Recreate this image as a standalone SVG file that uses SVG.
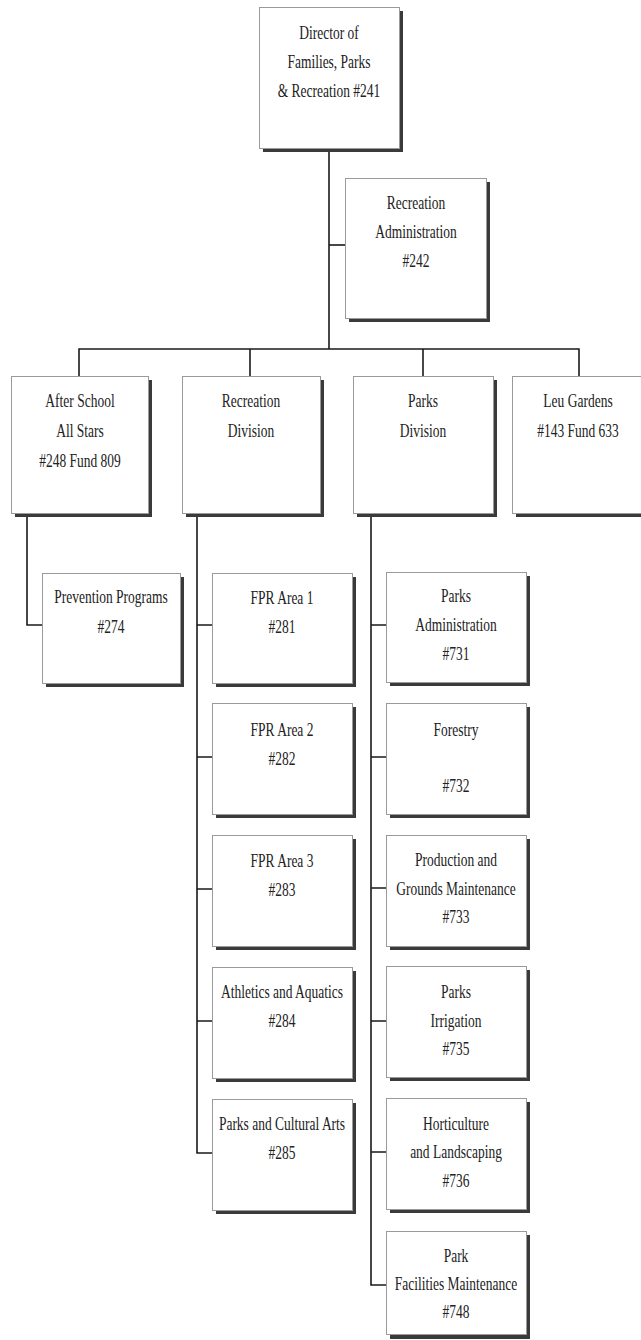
<svg xmlns="http://www.w3.org/2000/svg" width="641" height="1340" viewBox="0 0 641 1340">
  <style>
    .shadow { fill: #3a3a3a; }
    .box { fill: #ffffff; stroke: #9a9a9a; stroke-width: 1; }
    .lbl { font-family: "Liberation Serif", "Times New Roman", serif; font-size: 19px; fill: #222; text-anchor: middle; }
    .wire { fill: none; stroke: #1a1a1a; stroke-width: 1.6; }
  </style>
  <rect width="641" height="1340" fill="#ffffff"/>

  <!-- connectors -->
  <g id="connectors" class="wire">
    <path d="M329 150 V349"/>
    <path d="M329 245 H345"/>
    <path d="M79 376 V349 H579 V376"/>
    <path d="M250 349 V376"/>
    <path d="M423 349 V376"/>
    <path d="M27 517 V625 H42"/>
    <path d="M197 517 V1153 H212"/>
    <path d="M197 625 H212 M197 757 H212 M197 889 H212 M197 1021 H212"/>
    <path d="M371 517 V1285 H386"/>
    <path d="M371 625 H386 M371 757 H386 M371 888 H386 M371 1021 H386 M371 1152 H386"/>
  </g>

  <!-- director -->
  <g id="director">
    <rect class="shadow" x="263" y="11" width="140" height="141"/>
    <rect class="box" x="259.5" y="7.5" width="140" height="141"/>
    <g transform="translate(329 0) scale(0.71 1)">
      <text class="lbl" x="0" y="39">Director of</text>
      <text class="lbl" x="0" y="68">Families, Parks</text>
      <text class="lbl" x="0" y="97">&amp; Recreation #241</text>
    </g>
  </g>

  <g id="rec-admin">
    <rect class="shadow" x="349" y="182" width="141" height="140"/>
    <rect class="box" x="345.5" y="178.5" width="141" height="140"/>
    <g transform="translate(416 0) scale(0.71 1)">
      <text class="lbl" x="0" y="209">Recreation</text>
      <text class="lbl" x="0" y="238">Administration</text>
      <text class="lbl" x="0" y="267">#242</text>
    </g>
  </g>

  <g id="after-school">
    <rect class="shadow" x="15" y="380" width="137" height="137"/>
    <rect class="box" x="11.5" y="376.5" width="137" height="137"/>
    <g transform="translate(80 0) scale(0.71 1)">
      <text class="lbl" x="0" y="407">After School</text>
      <text class="lbl" x="0" y="437">All Stars</text>
      <text class="lbl" x="0" y="467">#248 Fund 809</text>
    </g>
  </g>

  <g id="rec-division">
    <rect class="shadow" x="186" y="380" width="138" height="137"/>
    <rect class="box" x="182.5" y="376.5" width="138" height="137"/>
    <g transform="translate(251 0) scale(0.71 1)">
      <text class="lbl" x="0" y="407">Recreation</text>
      <text class="lbl" x="0" y="437">Division</text>
    </g>
  </g>

  <g id="parks-division">
    <rect class="shadow" x="357" y="380" width="140" height="137"/>
    <rect class="box" x="353.5" y="376.5" width="140" height="137"/>
    <g transform="translate(423 0) scale(0.71 1)">
      <text class="lbl" x="0" y="407">Parks</text>
      <text class="lbl" x="0" y="437">Division</text>
    </g>
  </g>

  <g id="leu-gardens">
    <rect class="shadow" x="516" y="380" width="140" height="137"/>
    <rect class="box" x="512.5" y="376.5" width="140" height="137"/>
    <g transform="translate(578 0) scale(0.71 1)">
      <text class="lbl" x="0" y="407">Leu Gardens</text>
      <text class="lbl" x="0" y="437">#143 Fund 633</text>
    </g>
  </g>

  <g id="prevention">
    <rect class="shadow" x="46" y="577" width="138" height="110"/>
    <rect class="box" x="42.5" y="573.5" width="138" height="110"/>
    <g transform="translate(111 0) scale(0.71 1)">
      <text class="lbl" x="0" y="603">Prevention Programs</text>
      <text class="lbl" x="0" y="633">#274</text>
    </g>
  </g>

  <!-- recreation division units -->
  <g id="fpr-281">
    <rect class="shadow" x="216" y="577" width="140" height="110"/>
    <rect class="box" x="212.5" y="573.5" width="140" height="110"/>
    <g transform="translate(282 0) scale(0.71 1)">
      <text class="lbl" x="0" y="604">FPR Area 1</text>
      <text class="lbl" x="0" y="633">#281</text>
    </g>
  </g>

  <g id="fpr-282">
    <rect class="shadow" x="216" y="707" width="140" height="111"/>
    <rect class="box" x="212.5" y="703.5" width="140" height="111"/>
    <g transform="translate(282 0) scale(0.71 1)">
      <text class="lbl" x="0" y="736">FPR Area 2</text>
      <text class="lbl" x="0" y="765">#282</text>
    </g>
  </g>

  <g id="fpr-283">
    <rect class="shadow" x="216" y="839" width="140" height="111"/>
    <rect class="box" x="212.5" y="835.5" width="140" height="111"/>
    <g transform="translate(282 0) scale(0.71 1)">
      <text class="lbl" x="0" y="867">FPR Area 3</text>
      <text class="lbl" x="0" y="896">#283</text>
    </g>
  </g>

  <g id="athletics-284">
    <rect class="shadow" x="216" y="971" width="140" height="111"/>
    <rect class="box" x="212.5" y="967.5" width="140" height="111"/>
    <g transform="translate(282 0) scale(0.71 1)">
      <text class="lbl" x="0" y="998">Athletics and Aquatics</text>
      <text class="lbl" x="0" y="1027">#284</text>
    </g>
  </g>

  <g id="cultural-285">
    <rect class="shadow" x="216" y="1103" width="140" height="111"/>
    <rect class="box" x="212.5" y="1099.5" width="140" height="111"/>
    <g transform="translate(282 0) scale(0.71 1)">
      <text class="lbl" x="0" y="1130">Parks and Cultural Arts</text>
      <text class="lbl" x="0" y="1159">#285</text>
    </g>
  </g>

  <!-- parks division units -->
  <g id="parks-admin-731">
    <rect class="shadow" x="390" y="576" width="140" height="110"/>
    <rect class="box" x="386.5" y="572.5" width="140" height="110"/>
    <g transform="translate(456 0) scale(0.71 1)">
      <text class="lbl" x="0" y="602">Parks</text>
      <text class="lbl" x="0" y="631">Administration</text>
      <text class="lbl" x="0" y="660">#731</text>
    </g>
  </g>

  <g id="forestry-732">
    <rect class="shadow" x="390" y="707" width="140" height="111"/>
    <rect class="box" x="386.5" y="703.5" width="140" height="111"/>
    <g transform="translate(456 0) scale(0.71 1)">
      <text class="lbl" x="0" y="736">Forestry</text>
      <text class="lbl" x="0" y="792">#732</text>
    </g>
  </g>

  <g id="grounds-733">
    <rect class="shadow" x="390" y="839" width="140" height="111"/>
    <rect class="box" x="386.5" y="835.5" width="140" height="111"/>
    <g transform="translate(456 0) scale(0.71 1)">
      <text class="lbl" x="0" y="866">Production and</text>
      <text class="lbl" x="0" y="895">Grounds Maintenance</text>
      <text class="lbl" x="0" y="923">#733</text>
    </g>
  </g>

  <g id="irrigation-735">
    <rect class="shadow" x="390" y="970" width="140" height="111"/>
    <rect class="box" x="386.5" y="966.5" width="140" height="111"/>
    <g transform="translate(456 0) scale(0.71 1)">
      <text class="lbl" x="0" y="998">Parks</text>
      <text class="lbl" x="0" y="1027">Irrigation</text>
      <text class="lbl" x="0" y="1055">#735</text>
    </g>
  </g>

  <g id="horticulture-736">
    <rect class="shadow" x="390" y="1102" width="140" height="111"/>
    <rect class="box" x="386.5" y="1098.5" width="140" height="111"/>
    <g transform="translate(456 0) scale(0.71 1)">
      <text class="lbl" x="0" y="1130">Horticulture</text>
      <text class="lbl" x="0" y="1158">and Landscaping</text>
      <text class="lbl" x="0" y="1187">#736</text>
    </g>
  </g>

  <g id="facilities-748">
    <rect class="shadow" x="390" y="1235" width="140" height="104"/>
    <rect class="box" x="386.5" y="1231.5" width="140" height="103"/>
    <g transform="translate(456 0) scale(0.71 1)">
      <text class="lbl" x="0" y="1262">Park</text>
      <text class="lbl" x="0" y="1290">Facilities Maintenance</text>
      <text class="lbl" x="0" y="1318">#748</text>
    </g>
  </g>
</svg>
